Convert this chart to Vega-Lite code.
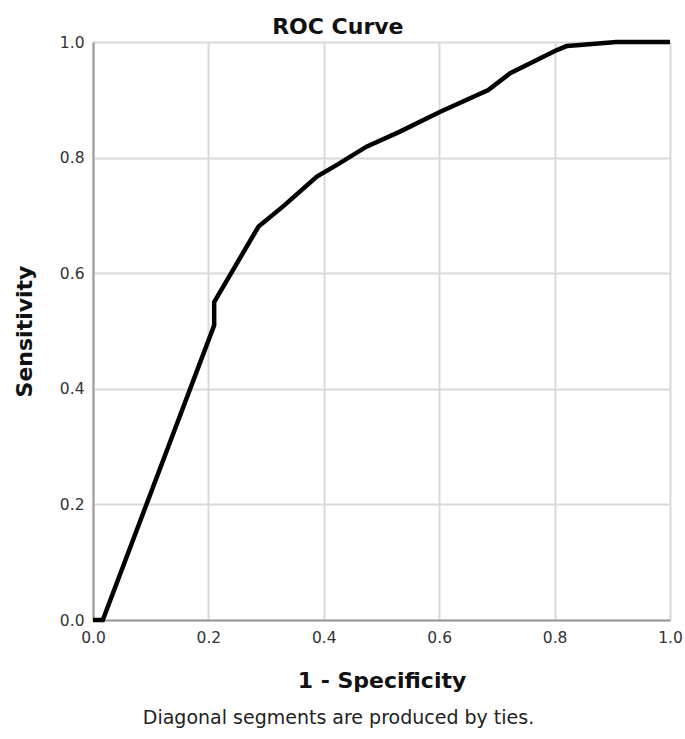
{
  "$schema": "https://vega.github.io/schema/vega-lite/v6.json",
  "autosize": "none",
  "width": 577,
  "height": 578,
  "padding": {"left": 93, "top": 42, "right": 15, "bottom": 119},
  "background": "white",
  "title": {
    "text": "ROC Curve",
    "font": "DejaVu Sans",
    "fontSize": 22,
    "fontWeight": "bold",
    "color": "#111111",
    "anchor": "middle",
    "frame": "bounds",
    "baseline": "alphabetic",
    "offset": -23,
    "dx": -10
  },
  "config": {
    "view": {"stroke": null},
    "axis": {
      "labelFont": "DejaVu Sans",
      "labelFontSize": 15.5,
      "labelColor": "#333333",
      "titleFont": "DejaVu Sans",
      "titleFontSize": 22,
      "titleFontWeight": "bold",
      "titleColor": "#111111",
      "ticks": false,
      "gridColor": "#d9d9d9",
      "gridWidth": 2,
      "domainColor": "#9a9a9a",
      "domainWidth": 2,
      "labelFlush": false,
      "labelOverlap": false
    }
  },
  "data": {
    "values": [
      {"k": 0, "fpr": 0.0, "sens": 0.0},
      {"k": 1, "fpr": 0.017, "sens": 0.0},
      {"k": 2, "fpr": 0.21, "sens": 0.51},
      {"k": 3, "fpr": 0.21, "sens": 0.55},
      {"k": 4, "fpr": 0.287, "sens": 0.681},
      {"k": 5, "fpr": 0.33, "sens": 0.716},
      {"k": 6, "fpr": 0.388, "sens": 0.767},
      {"k": 7, "fpr": 0.422, "sens": 0.787},
      {"k": 8, "fpr": 0.474, "sens": 0.819},
      {"k": 9, "fpr": 0.532, "sens": 0.845},
      {"k": 10, "fpr": 0.601, "sens": 0.879},
      {"k": 11, "fpr": 0.685, "sens": 0.917},
      {"k": 12, "fpr": 0.723, "sens": 0.946},
      {"k": 13, "fpr": 0.804, "sens": 0.986},
      {"k": 14, "fpr": 0.821, "sens": 0.993},
      {"k": 15, "fpr": 0.844, "sens": 0.995},
      {"k": 16, "fpr": 0.907, "sens": 1.0},
      {"k": 17, "fpr": 1.0, "sens": 1.0}
    ]
  },
  "encoding": {
    "y": {
      "field": "sens",
      "type": "quantitative",
      "scale": {"domain": [0, 1], "nice": false, "zero": false},
      "axis": {
        "title": "Sensitivity",
        "values": [0, 0.2, 0.4, 0.6, 0.8, 1],
        "format": ".1f",
        "labelPadding": 9,
        "titlePadding": 23
      }
    },
    "order": {"field": "k", "type": "quantitative"}
  },
  "layer": [
    {
      "mark": {"type": "line", "color": "#000000", "strokeWidth": 4.5},
      "encoding": {
        "x": {
          "field": "fpr",
          "type": "quantitative",
          "scale": {"domain": [0, 1], "nice": false, "zero": false},
          "axis": {
            "orient": "bottom",
            "title": "1 - Specificity",
            "values": [0, 0.2, 0.4, 0.6, 0.8, 1],
            "format": ".1f",
            "labelPadding": 10,
            "titlePadding": 25
          }
        }
      }
    },
    {
      "mark": {"type": "line", "opacity": 0},
      "encoding": {
        "x": {
          "field": "fpr",
          "type": "quantitative",
          "scale": {"domain": [0, 1], "nice": false, "zero": false},
          "axis": {
            "orient": "bottom",
            "title": "Diagonal segments are produced by ties.",
            "titleFontSize": 19,
            "titleFontWeight": "normal",
            "titleColor": "#222222",
            "titleX": 245,
            "labels": false,
            "ticks": false,
            "domain": false,
            "grid": false,
            "titlePadding": 88
          }
        }
      }
    }
  ],
  "resolve": {"axis": {"x": "independent"}}
}
